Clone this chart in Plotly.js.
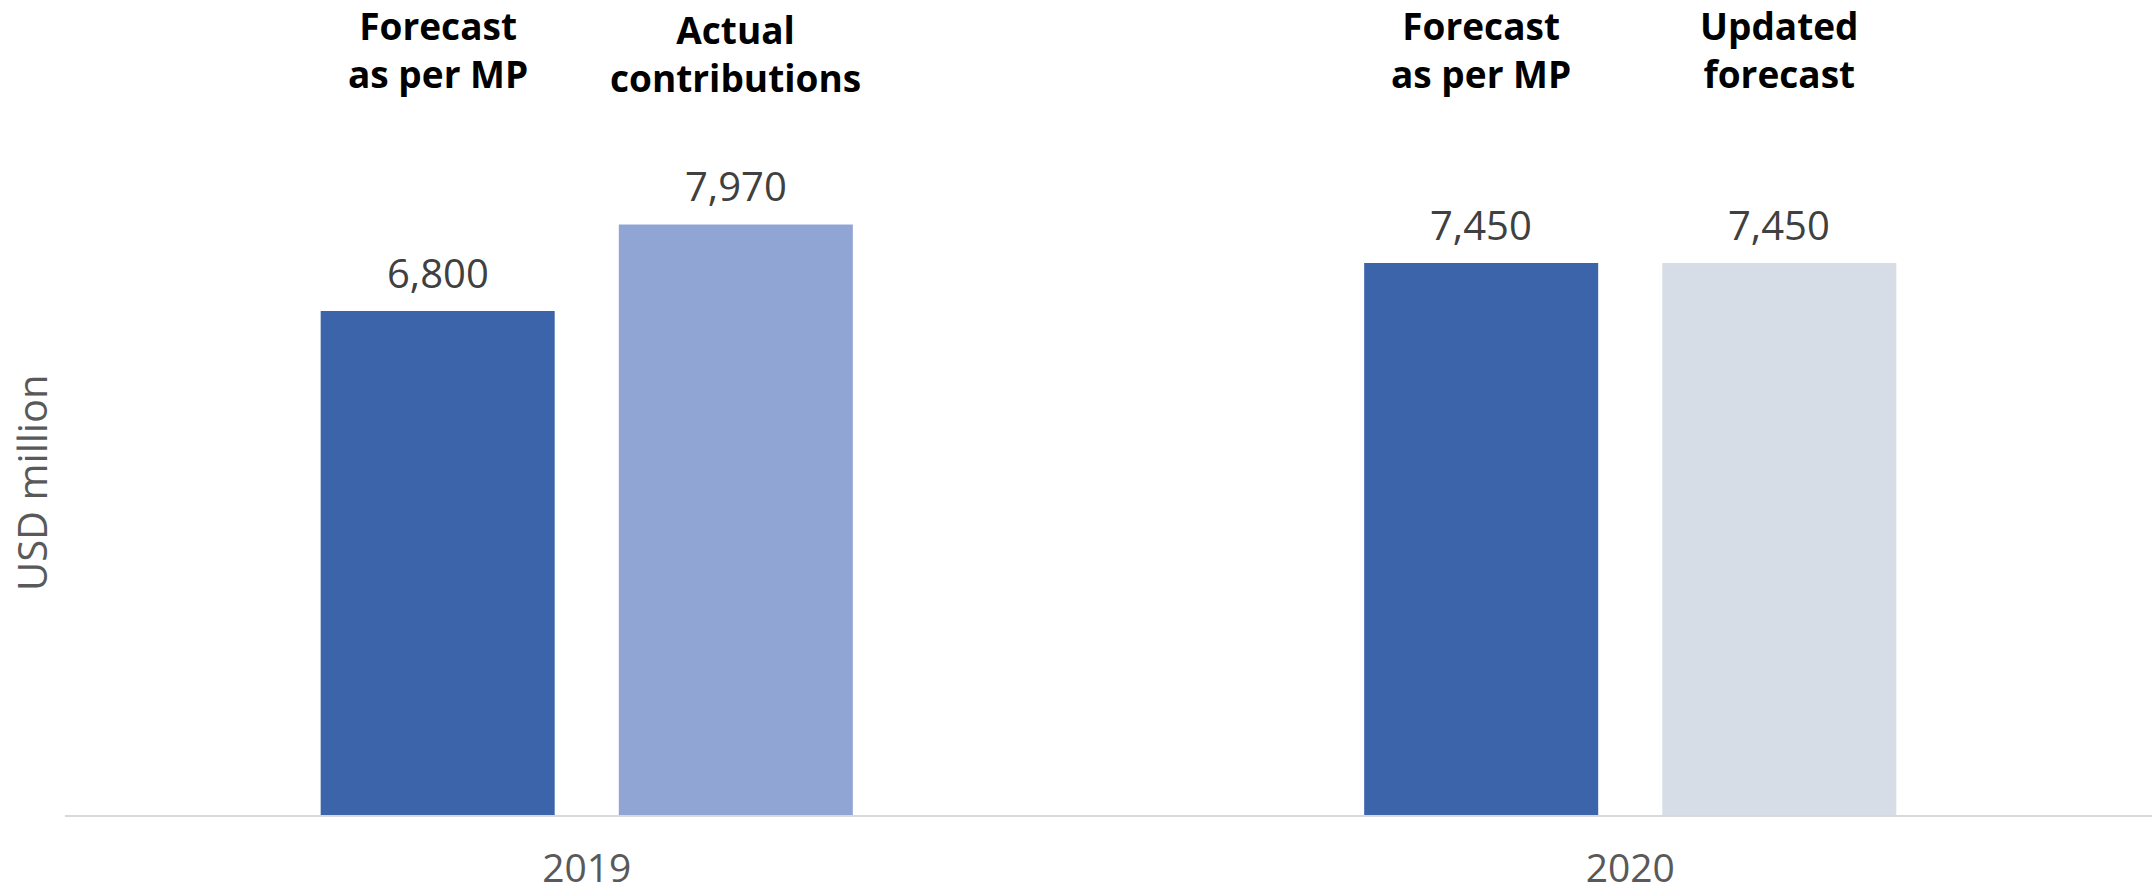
<!DOCTYPE html>
<html>
<head>
<meta charset="utf-8">
<script src="https://cdn.plot.ly/plotly-3.0.1.min.js"></script>
<style>
  html, body { margin: 0; padding: 0; background: #ffffff; }
  #chart { width: 2153px; height: 892px; }
</style>
</head>
<body>
<div id="chart"></div>
<script>
// ---- data ----
const years = ['2019', '2020'];
const firstBarLabels = ['Forecast<br>as per MP', 'Forecast<br>as per MP'];
const secondBarLabels = ['Actual<br>contributions', 'Updated<br>forecast'];
const firstBarValues = [6800, 7450];
const secondBarValues = [7970, 7450];
const firstBarColors = ['#3C64AB', '#3C64AB'];
const secondBarColors = ['#91A5D4', '#D6DDE7'];
const yTitle = 'USD million';

// ---- layout constants ----
const FONT = '"Open Sans", "Liberation Sans", sans-serif';
const OFFSET = 149; // px shift of each bar from the category centre
const fmt = v => v.toLocaleString('en-US');
const bold = s => s.split('<br>').map(p => '<b>' + p + '</b>').join('<br>');

const traces = [
  {
    type: 'bar', x: years, y: firstBarValues,
    marker: { color: firstBarColors, line: { width: 0 } },
    hoverinfo: 'x+y', showlegend: false
  },
  {
    type: 'bar', x: years, y: secondBarValues,
    marker: { color: secondBarColors, line: { width: 0 } },
    hoverinfo: 'x+y', showlegend: false
  }
];

const annotations = [];
const headerY = [[1.0337, 1.027], [1.0337, 1.0337]];
years.forEach((yr, i) => {
  // value labels (x given as category index)
  annotations.push({
    xref: 'x', yref: 'y', x: i, y: firstBarValues[i], xshift: -OFFSET,
    yanchor: 'bottom', yshift: 9, showarrow: false, text: fmt(firstBarValues[i]),
    font: { family: FONT, size: 40, color: '#404040' }
  });
  annotations.push({
    xref: 'x', yref: 'y', x: i, y: secondBarValues[i], xshift: OFFSET,
    yanchor: 'bottom', yshift: 9, showarrow: false, text: fmt(secondBarValues[i]),
    font: { family: FONT, size: 40, color: '#404040' }
  });
  // header labels
  annotations.push({
    xref: 'x', yref: 'paper', x: i, y: headerY[i][0], xshift: -OFFSET,
    yanchor: 'middle', showarrow: false, text: bold(firstBarLabels[i]),
    font: { family: FONT, size: 37, color: '#000000' }
  });
  annotations.push({
    xref: 'x', yref: 'paper', x: i, y: headerY[i][1], xshift: OFFSET,
    yanchor: 'middle', showarrow: false, text: bold(secondBarLabels[i]),
    font: { family: FONT, size: 37, color: '#000000' }
  });
});
// y-axis title
annotations.push({
  xref: 'paper', yref: 'paper', x: -34 / 2087, y: (815 - 483) / 741,
  xanchor: 'center', yanchor: 'middle', textangle: -90, showarrow: false,
  text: yTitle, font: { family: FONT, size: 40, color: '#595959' }
});

const layout = {
  width: 2153, height: 892,
  margin: { l: 65, r: 1, t: 74, b: 77, pad: 0 },
  paper_bgcolor: '#ffffff', plot_bgcolor: '#ffffff',
  barmode: 'group', bargap: 0.4286, bargroupgap: 0.215,
  font: { family: FONT, color: '#595959' },
  xaxis: {
    type: 'category', range: [-0.5, 1.5], autorange: false,
    showline: true, linecolor: '#D9D9D9', linewidth: 2,
    ticks: '', showgrid: false, zeroline: false, ticklabelstandoff: 18,
    tickfont: { family: FONT, size: 39, color: '#595959' }
  },
  yaxis: {
    range: [0, 10000], autorange: false, visible: false,
    showgrid: false, zeroline: false, fixedrange: true
  },
  annotations: annotations
};

Plotly.newPlot('chart', traces, layout, { displayModeBar: false, staticPlot: true });
</script>
</body>
</html>
